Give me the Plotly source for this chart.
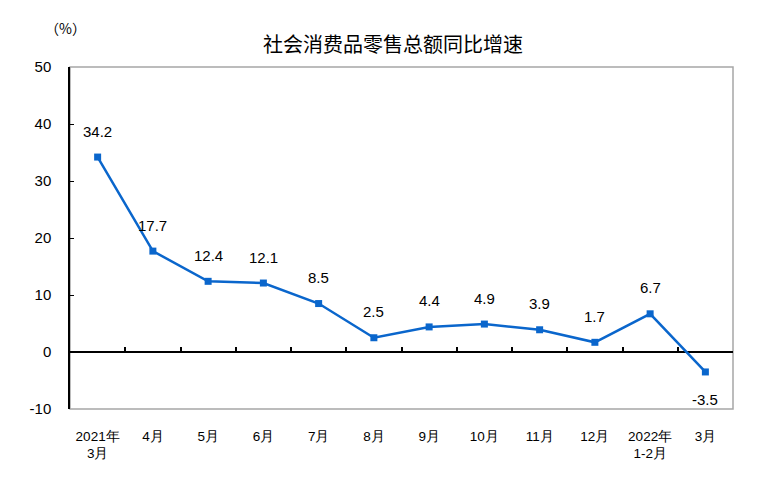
import plotly.graph_objects as go

categories = ["2021年<br>3月", "4月", "5月", "6月", "7月", "8月", "9月", "10月", "11月", "12月", "2022年<br>1-2月", "3月"]
values = [34.2, 17.7, 12.4, 12.1, 8.5, 2.5, 4.4, 4.9, 3.9, 1.7, 6.7, -3.5]
label_text = ["34.2", "17.7", "12.4", "12.1", "8.5", "2.5", "4.4", "4.9", "3.9", "1.7", "6.7", "-3.5"]
y_ticks = [-10, 0, 10, 20, 30, 40, 50]
y_tick_text = ["-10", "0", "10", "20", "30", "40", "50"]

BLUE = "#0A66CC"
num_font = "Liberation Sans, Arial, sans-serif"
cjk_font = "Noto Sans CJK SC, sans-serif"

fig = go.Figure()
fig.add_trace(go.Scatter(
    x=categories, y=values, mode="lines+markers",
    line=dict(color=BLUE, width=2.5),
    marker=dict(symbol="square", size=7, color=BLUE),
    showlegend=False, hoverinfo="skip",
))
# invisible trace to host the tick axis on the zero line
fig.add_trace(go.Scatter(
    x=categories, y=values, xaxis="x2", mode="lines",
    line=dict(width=0, color="rgba(0,0,0,0)"),
    showlegend=False, hoverinfo="skip",
))

for c, v, t in zip(categories, values, label_text):
    fig.add_annotation(
        x=c, y=v, text=t, showarrow=False,
        yshift=-28 if v < 0 else 26,
        font=dict(family=num_font, size=15, color="#000000"),
    )

fig.add_shape(type="rect", xref="paper", yref="paper", x0=0, x1=1, y0=0, y1=1,
              line=dict(color="#A6A6A6", width=1.5), layer="below")

fig.add_annotation(xref="paper", yref="paper", x=0.487, y=1, yshift=24, yanchor="middle",
                   text="社会消费品零售总额同比增速", showarrow=False,
                   font=dict(family=cjk_font, size=20, color="#000000"))
fig.add_annotation(xref="paper", yref="paper", x=-0.04, y=1, yshift=39, yanchor="middle",
                   text="（%）", showarrow=False,
                   font=dict(family=cjk_font, size=14, color="#000000"))

fig.update_layout(
    width=772, height=489,
    margin=dict(l=70, r=39, t=67, b=80),
    paper_bgcolor="white", plot_bgcolor="white",
    xaxis=dict(
        type="category", categoryorder="array", categoryarray=categories,
        range=[-0.5, 11.5], showgrid=False, zeroline=False, showline=False,
        ticks="", tickfont=dict(family=num_font, size=13.5, color="#000000"),
        ticklabelstandoff=17,
    ),
    xaxis2=dict(
        type="category", categoryorder="array", categoryarray=categories,
        overlaying="x", anchor="free", position=1/6,
        range=[-0.5, 11.5], showgrid=False, zeroline=False, showline=False,
        ticks="inside", tickson="boundaries", ticklen=5, tickwidth=1.5, tickcolor="#000000",
        showticklabels=False,
    ),
    yaxis=dict(
        range=[-10, 50], tickvals=y_ticks, ticktext=y_tick_text, showgrid=False,
        zeroline=True, zerolinecolor="#000000", zerolinewidth=1.5,
        showline=True, linecolor="#000000", linewidth=1.5,
        ticks="inside", ticklen=4, tickcolor="#000000",
        ticklabelstandoff=14,
        tickfont=dict(family=num_font, size=15, color="#000000"),
    ),
)

fig.write_html("out.html")
